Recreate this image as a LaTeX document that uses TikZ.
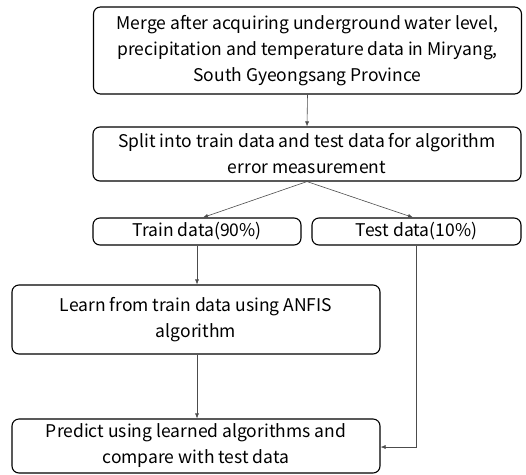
\documentclass[tikz,border=0pt]{standalone}
\usepackage{fontspec}
\setmainfont{Noto Sans CJK KR}
\usetikzlibrary{arrows.meta,calc}
\begin{document}
\begin{tikzpicture}[x=1pt,y=-1pt,
  box/.style={draw=black,line width=1.1pt,rounded corners=7pt,align=center,
    inner sep=0pt,font=\fontsize{17.5}{26}\selectfont},
  flow/.style={draw=black!70,line width=0.6pt,-{Latex[length=5pt,width=4pt]}}]
\useasboundingbox (0,0) rectangle (526,474);
\node[box,minimum width=428pt,minimum height=87pt] (merge) at (307.5,50.5)
  {Merge after acquiring underground water level,\\precipitation and temperature data in Miryang,\\South Gyeongsang Province};
\node[box,minimum width=428pt,minimum height=54pt] (split) at (307,154)
  {Split into train data and test data for algorithm\\error measurement};
\node[box,minimum width=208pt,minimum height=27pt] (train) at (197,231.5) {Train data(90\%)};
\node[box,minimum width=209pt,minimum height=27pt] (test) at (416.5,231.5) {Test data(10\%)};
\node[box,minimum width=368pt,minimum height=69pt] (learn) at (196,319.5)
  {Learn from train data using ANFIS\\algorithm};
\node[box,minimum width=368pt,minimum height=54pt] (predict) at (196,446)
  {Predict using learned algorithms and\\compare with test data};
\draw[flow] (merge.south) -- (split.north);
\draw[flow] (split.south) -- ($(train.north)+(6,0)$);
\draw[flow] (split.south) -- ($(test.north)+(-3.5,0)$);
\draw[flow] (train.south) -- (train.south |- learn.north);
\draw[flow] (train.south |- learn.south) -- (train.south |- predict.north);
\draw[flow] (test.south) |- ($(predict.east)+(0,1)$);
\end{tikzpicture}
\end{document}
